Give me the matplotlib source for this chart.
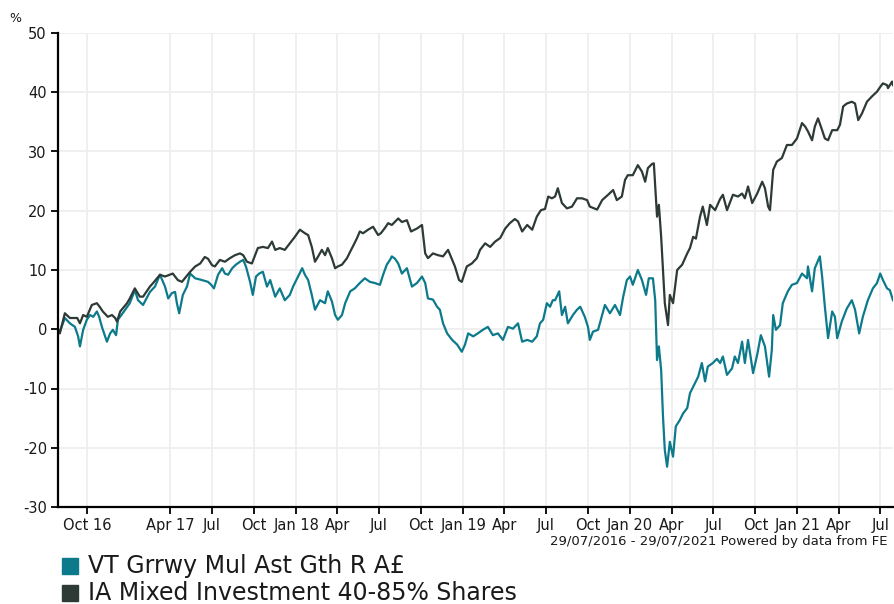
"""
Cumulative performance: VT Garraway Multi Asset Growth vs IA Mixed Investment 40-85% Shares
"""

import matplotlib
matplotlib.use('Agg')
import matplotlib.pyplot as plt
import pandas as pd
from matplotlib.patches import Rectangle

plt.rcParams['axes.unicode_minus'] = False

start = pd.Timestamp('2016-07-29')
end = pd.Timestamp('2021-07-29')

# IA Mixed Investment 40-85% Shares: days since start, % growth
ia_days = [0, 4, 15, 26, 42, 48, 55, 63, 74, 85,
	92, 98, 109, 118, 125, 129, 136, 151, 157, 168,
	179, 186, 201, 208, 223, 234, 251, 262, 271, 289,
	300, 311, 321, 328, 337, 343, 354, 365, 376, 387,
	398, 405, 413, 424, 431, 437, 448, 459, 468, 475,
	485, 496, 507, 518, 529, 540, 547, 555, 562, 569,
	577, 584, 590, 599, 606, 612, 621, 632, 639, 645,
	654, 660, 667, 678, 689, 700, 706, 715, 722, 730,
	744, 752, 763, 772, 785, 796, 803, 809, 820, 831,
	842, 853, 862, 868, 877, 883, 894, 905, 916, 923,
	934, 945, 956, 967, 978, 988, 999, 1006, 1015, 1026,
	1037, 1047, 1056, 1065, 1072, 1080, 1087, 1093, 1102, 1113,
	1124, 1135, 1146, 1157, 1163, 1179, 1190, 1203, 1214, 1222,
	1233, 1240, 1246, 1257, 1268, 1277, 1284, 1290, 1299, 1303,
	1310, 1314, 1319, 1323, 1327, 1334, 1338, 1345, 1354, 1365,
	1376, 1382, 1389, 1395, 1404, 1410, 1419, 1426, 1437, 1448,
	1454, 1463, 1476, 1487, 1496, 1502, 1509, 1518, 1529, 1540,
	1546, 1553, 1557, 1564, 1572, 1583, 1594, 1605, 1616, 1627,
	1634, 1640, 1649, 1655, 1662, 1671, 1677, 1684, 1693, 1704,
	1710, 1717, 1725, 1736, 1743, 1750, 1758, 1769, 1780, 1791,
	1798, 1804, 1813, 1815, 1824, 1826]
ia_vals = [0.0, -0.7, 2.7, 1.9, 1.9, 1.0, 2.4, 2.1, 4.1, 4.4,
	3.7, 3.0, 2.1, 2.4, 1.9, 1.3, 3.0, 4.4, 5.2, 6.9,
	5.5, 5.5, 7.2, 7.8, 9.2, 8.9, 9.4, 8.3, 8.0, 9.7,
	10.6, 11.1, 12.2, 11.9, 10.8, 10.6, 11.7, 11.4, 12.0, 12.5,
	12.8, 12.5, 11.4, 11.1, 12.5, 13.7, 13.9, 13.7, 14.8, 13.4,
	13.7, 13.4, 14.5, 15.6, 16.8, 16.2, 15.9, 13.9, 11.4, 12.3,
	13.4, 12.5, 13.7, 12.0, 10.3, 10.6, 10.9, 12.0, 13.1, 14.0,
	15.4, 16.5, 16.2, 16.8, 17.3, 15.9, 16.2, 17.1, 17.9, 17.6,
	18.7, 18.1, 18.4, 16.5, 17.0, 17.6, 12.8, 12.0, 12.8, 12.5,
	12.3, 13.4, 11.7, 10.6, 8.3, 8.0, 10.6, 11.1, 12.0, 13.4,
	14.5, 13.9, 14.8, 15.4, 17.0, 17.9, 18.6, 18.2, 16.5, 17.6,
	16.8, 19.0, 20.1, 20.3, 22.4, 22.1, 22.4, 23.8, 21.3, 20.4,
	20.7, 22.1, 22.1, 21.8, 20.7, 20.2, 21.8, 22.7, 23.5, 21.8,
	22.4, 25.2, 26.0, 26.0, 27.7, 26.6, 24.9, 27.2, 27.9, 28.0,
	19.0, 21.0, 15.6, 10.0, 4.4, 0.7, 5.8, 4.4, 10.0, 10.9,
	12.8, 13.7, 15.6, 15.3, 19.0, 20.7, 17.6, 21.0, 20.1, 22.0,
	22.7, 20.1, 22.7, 22.4, 22.9, 22.1, 24.1, 21.3, 22.9, 24.9,
	23.8, 20.7, 20.1, 26.9, 28.3, 28.9, 31.1, 31.1, 32.2, 34.8,
	34.2, 33.4, 31.9, 34.2, 35.6, 33.6, 32.2, 31.9, 33.6, 33.6,
	34.5, 37.6, 38.1, 38.4, 38.1, 35.3, 36.4, 38.4, 39.3, 40.1,
	40.9, 41.5, 41.2, 40.7, 41.8, 41.2]

# VT Grrwy Mul Ast Gth R A£: days since start, % growth
fund_days = [0, 4, 15, 26, 37, 44, 48, 55, 63, 70,
	77, 85, 90, 96, 103, 107, 114, 120, 127, 131,
	147, 157, 168, 175, 186, 201, 212, 223, 234, 241,
	249, 256, 260, 265, 273, 282, 289, 300, 315, 328,
	335, 341, 350, 359, 365, 372, 381, 389, 398, 405,
	411, 420, 426, 433, 440, 448, 457, 464, 475, 485,
	496, 507, 514, 525, 534, 540, 547, 555, 562, 573,
	584, 590, 599, 606, 612, 621, 628, 639, 649, 660,
	671, 682, 693, 704, 711, 719, 726, 730, 737, 744,
	752, 763, 774, 785, 796, 803, 809, 820, 829, 835,
	842, 851, 862, 873, 883, 890, 897, 908, 918, 929,
	940, 951, 962, 973, 984, 995, 1006, 1015, 1026, 1037,
	1047, 1054, 1061, 1069, 1076, 1082, 1087, 1096, 1102, 1109,
	1115, 1126, 1135, 1142, 1152, 1159, 1163, 1170, 1181, 1190,
	1196, 1207, 1218, 1229, 1236, 1244, 1251, 1257, 1268, 1277,
	1286, 1292, 1301, 1306, 1310, 1314, 1319, 1323, 1327, 1332,
	1338, 1345, 1351, 1360, 1367, 1376, 1382, 1389, 1400, 1408,
	1415, 1421, 1432, 1441, 1448, 1454, 1463, 1474, 1480, 1487,
	1496, 1502, 1509, 1520, 1529, 1537, 1546, 1555, 1561, 1564,
	1570, 1579, 1585, 1596, 1605, 1616, 1627, 1638, 1640, 1649,
	1655, 1666, 1671, 1677, 1684, 1693, 1699, 1704, 1714, 1725,
	1736, 1743, 1752, 1760, 1771, 1782, 1791, 1798, 1804, 1813,
	1819, 1826]
fund_vals = [0.0, -0.4, 1.9, 1.0, 0.4, -1.2, -2.9, -0.1, 1.6, 2.4,
	2.1, 3.0, 2.1, 0.4, -1.2, -2.1, -0.7, -0.1, -1.0, 1.6,
	3.3, 4.4, 6.6, 4.9, 4.1, 6.3, 7.2, 9.2, 7.2, 5.2,
	6.1, 6.3, 4.4, 2.7, 5.8, 7.2, 9.4, 8.6, 8.3, 8.0,
	7.5, 6.9, 9.2, 10.3, 9.4, 9.2, 10.3, 10.9, 11.4, 11.7,
	10.6, 8.0, 5.8, 8.9, 9.4, 9.7, 7.2, 8.3, 5.5, 6.9,
	4.9, 5.8, 7.2, 8.9, 10.3, 9.2, 8.3, 5.8, 3.3, 4.9,
	4.4, 6.4, 4.7, 2.4, 1.6, 2.4, 4.4, 6.4, 6.9, 7.8,
	8.6, 8.0, 7.8, 7.5, 9.2, 10.9, 11.7, 12.3, 11.9, 11.1,
	9.4, 10.3, 7.2, 7.8, 8.9, 7.8, 5.2, 5.0, 3.8, 3.3,
	1.0, -0.7, -1.8, -2.6, -3.8, -2.6, -0.7, -1.2, -0.7, -0.1,
	0.4, -1.0, -0.7, -1.8, 0.4, 0.1, 1.0, -2.1, -1.8, -2.1,
	-1.2, 1.0, 1.6, 4.4, 3.8, 4.9, 4.9, 6.4, 2.4, 3.8,
	1.0, 2.4, 3.3, 3.8, 2.1, 0.4, -1.8, -0.4, -0.1, 2.4,
	4.1, 2.7, 4.1, 2.4, 5.5, 8.3, 8.9, 7.5, 10.0, 8.3,
	5.8, 8.6, 8.6, 4.9, -5.2, -2.9, -6.9, -14.7, -20.4, -23.2,
	-19.0, -21.5, -16.4, -15.3, -14.2, -13.3, -10.8, -9.7, -8.0, -5.7,
	-8.8, -6.3, -5.7, -5.0, -5.7, -4.6, -7.7, -6.6, -4.6, -5.7,
	-2.1, -5.7, -1.8, -7.4, -4.3, -1.0, -2.9, -8.0, -3.5, 2.4,
	-0.1, 0.7, 4.4, 6.4, 7.5, 7.8, 9.4, 8.6, 10.6, 6.4,
	10.3, 12.3, 8.9, 3.8, -1.5, 3.0, 2.1, -1.5, 1.3, 3.5,
	4.9, 3.3, -0.7, 2.1, 4.9, 6.9, 7.8, 9.4, 8.3, 6.9,
	6.6, 4.9]

tick_dates = ['2016-10-01', '2017-04-01', '2017-07-01', '2017-10-01',
	'2018-01-01', '2018-04-01', '2018-07-01', '2018-10-01',
	'2019-01-01', '2019-04-01', '2019-07-01', '2019-10-01',
	'2020-01-01', '2020-04-01', '2020-07-01', '2020-10-01',
	'2021-01-01', '2021-04-01', '2021-07-01']
tick_labels = ['Oct 16', 'Apr 17', 'Jul', 'Oct', 'Jan 18', 'Apr', 'Jul', 'Oct',
	'Jan 19', 'Apr', 'Jul', 'Oct', 'Jan 20', 'Apr', 'Jul', 'Oct',
	'Jan 21', 'Apr', 'Jul']

series_names = ['VT Grrwy Mul Ast Gth R A£', 'IA Mixed Investment 40-85% Shares']
colours = ['#0c7a8b', '#2d3a36']


def main():
	fund_x = start + pd.to_timedelta(fund_days, unit='D')
	ia_x = start + pd.to_timedelta(ia_days, unit='D')

	fig = plt.figure(figsize=(8.94, 6.04), dpi=100)
	ax = fig.add_axes([58 / 894, 1 - 507 / 604, 835 / 894, 474 / 604])

	ax.plot(fund_x, fund_vals, color=colours[0], lw=1.6)
	ax.plot(ia_x, ia_vals, color=colours[1], lw=1.6)

	ax.set_xlim(start, end)
	ax.set_ylim(-30, 50)
	ax.set_yticks(range(-30, 51, 10))
	ax.set_xticks(pd.to_datetime(tick_dates))
	ax.set_xticklabels(tick_labels)
	ax.grid(True, color='#eeeeee', lw=1.3)
	ax.set_axisbelow(True)
	for s in ['top', 'right']:
		ax.spines[s].set_visible(False)
	for s in ['left', 'bottom']:
		ax.spines[s].set_linewidth(1.6)
		ax.spines[s].set_color('black')
	ax.tick_params(length=5, width=1.3, color='black', labelsize=10.5,
		labelcolor='#1a1a1a', pad=3)

	fig.text(15 / 894, 1 - 18 / 604, '%', fontsize=9, color='#1a1a1a',
		ha='center', va='center')
	fig.text(888 / 894, 1 - 541 / 604,
		'29/07/2016 - 29/07/2021 Powered by data from FE',
		fontsize=9.5, color='#1a1a1a', ha='right', va='center')

	# legend
	for i, (name, c) in enumerate(zip(series_names, colours)):
		yc = 566 + 27 * i
		fig.patches.append(Rectangle((62 / 894, 1 - (yc + 8) / 604), 16 / 894, 16 / 604,
			transform=fig.transFigure, color=c))
		fig.text(88 / 894, 1 - yc / 604, name, fontsize=17, color='#1a1a1a',
			ha='left', va='center')

	fig.savefig('out.png', dpi=100)


if __name__ == '__main__':
	main()
